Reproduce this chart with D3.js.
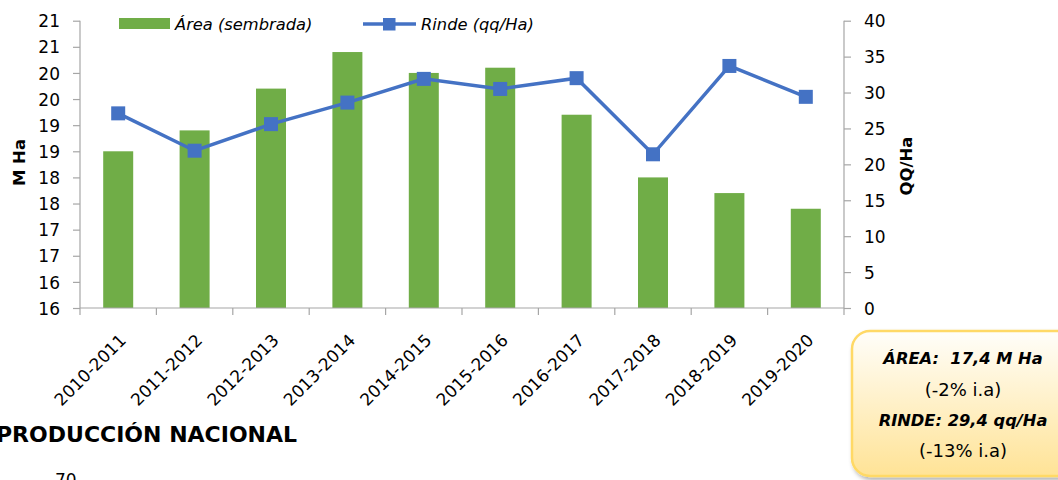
<!DOCTYPE html>
<html>
<head>
<meta charset="utf-8">
<script src="https://cdn.jsdelivr.net/npm/d3@7"></script>
<style>
  html, body { margin: 0; padding: 0; background: #fff; overflow: hidden; }
  svg { display: block; font-family: "DejaVu Sans", sans-serif; }
  .axis path, .axis line { stroke: #a6a6a6; stroke-width: 1.2; }
  .axis text { font-size: 17px; fill: #000; font-family: "DejaVu Sans", sans-serif; }
</style>
</head>
<body>
<div id="chart"></div>
<script>
var campaigns = ["2010-2011", "2011-2012", "2012-2013", "2013-2014", "2014-2015",
  "2015-2016", "2016-2017", "2017-2018", "2018-2019", "2019-2020"];
var area = [18.5, 18.9, 19.7, 20.4, 20.0, 20.1, 19.2, 18.0, 17.7, 17.4];
var rinde = [27.1, 21.9, 25.6, 28.6, 31.9, 30.5, 32.0, 21.4, 33.7, 29.4];
var leftTicks = [15.5, 16, 16.5, 17, 17.5, 18, 18.5, 19, 19.5, 20, 20.5, 21];
var leftTickLabels = ["16", "16", "17", "17", "18", "18", "19", "19", "20", "20", "21", "21"];
var rightTicks = [0, 5, 10, 15, 20, 25, 30, 35, 40];

var w = 1058, h = 480;
var plotLeft = 80, plotRight = 844, plotTop = 20.7, plotBottom = 308;

var svg = d3.select("#chart").append("svg")
  .attr("width", w)
  .attr("height", h);

var defs = svg.append("defs");
var grad = defs.append("linearGradient")
  .attr("id", "boxGrad")
  .attr("x1", 0).attr("y1", 0).attr("x2", 0).attr("y2", 1);
grad.append("stop").attr("offset", "0%").attr("stop-color", "#fffefa");
grad.append("stop").attr("offset", "100%").attr("stop-color", "#ffe396");
var shadow = defs.append("filter").attr("id", "shadow")
  .attr("x", "-10%").attr("y", "-10%").attr("width", "130%").attr("height", "130%");
shadow.append("feDropShadow")
  .attr("dx", 2).attr("dy", 3).attr("stdDeviation", 2)
  .attr("flood-color", "#000").attr("flood-opacity", 0.3);

var x = d3.scaleBand().domain(campaigns).range([plotLeft, plotRight]);
var yL = d3.scaleLinear().domain([15.5, 21]).range([plotBottom, plotTop]);
var yR = d3.scaleLinear().domain([0, 40]).range([plotBottom, plotTop]);

// barras de area
svg.append("g")
  .selectAll("rect")
  .data(area)
  .enter().append("rect")
  .attr("fill", "#70ad47")
  .attr("x", function (d, i) { return x(campaigns[i]) + (x.bandwidth() - 30) / 2; })
  .attr("width", 30)
  .attr("y", function (d) { return yL(d); })
  .attr("height", function (d) { return yL(15.5) - yL(d); });

// ejes
var axL = svg.append("g").attr("class", "axis")
  .attr("transform", "translate(" + plotLeft + ",0)")
  .call(d3.axisLeft(yL).tickValues(leftTicks).tickSize(7).tickPadding(13)
    .tickFormat(function (d, i) { return leftTickLabels[i]; }));
axL.select(".domain").attr("d", "M0," + plotTop + "V" + plotBottom);
axL.selectAll("text").attr("dy", "0.36em");

var axR = svg.append("g").attr("class", "axis")
  .attr("transform", "translate(" + plotRight + ",0)")
  .call(d3.axisRight(yR).tickValues(rightTicks).tickSize(7).tickPadding(13));
axR.select(".domain").attr("d", "M0," + plotTop + "V" + plotBottom);
axR.selectAll("text").attr("dy", "0.36em");

var axB = svg.append("g").attr("class", "axis")
  .attr("transform", "translate(0," + plotBottom + ")");
axB.append("line").attr("x1", plotLeft).attr("x2", plotRight);
axB.selectAll(".tk")
  .data(campaigns.concat(["end"]))
  .enter().append("line")
  .attr("x1", function (d, i) { return plotLeft + i * x.step(); })
  .attr("x2", function (d, i) { return plotLeft + i * x.step(); })
  .attr("y1", 0).attr("y2", 7);
axB.selectAll("text")
  .data(campaigns)
  .enter().append("text")
  .attr("transform", function (d) {
    return "translate(" + (x(d) + x.bandwidth() / 2 + 0.5) + ",25) rotate(-45)";
  })
  .attr("text-anchor", "end")
  .attr("dy", "0.7em")
  .text(function (d) { return d; });

// linea de rinde
var line = d3.line()
  .x(function (d, i) { return x(campaigns[i]) + x.bandwidth() / 2; })
  .y(function (d) { return yR(d); });
svg.append("path")
  .datum(rinde)
  .attr("fill", "none")
  .attr("stroke", "#4472c4")
  .attr("stroke-width", 3.5)
  .attr("d", line);
svg.append("g")
  .selectAll("rect")
  .data(rinde)
  .enter().append("rect")
  .attr("fill", "#4472c4")
  .attr("x", function (d, i) { return x(campaigns[i]) + x.bandwidth() / 2 - 7; })
  .attr("y", function (d) { return yR(d) - 7; })
  .attr("width", 14).attr("height", 14);

// titulos de ejes
svg.append("text")
  .attr("transform", "translate(25,162.5) rotate(-90)")
  .attr("text-anchor", "middle")
  .attr("font-size", 16.5).attr("font-weight", "bold")
  .text("M Ha");
svg.append("text")
  .attr("transform", "translate(912,166) rotate(-90)")
  .attr("text-anchor", "middle")
  .attr("font-size", 16.5).attr("font-weight", "bold")
  .text("QQ/Ha");

// leyenda
var leg = svg.append("g").attr("font-size", 16.3).attr("font-style", "italic");
leg.append("rect").attr("x", 119).attr("y", 18).attr("width", 51).attr("height", 11).attr("fill", "#70ad47");
leg.append("text").attr("x", 175).attr("y", 30).text("Área (sembrada)");
leg.append("line").attr("x1", 363).attr("x2", 416).attr("y1", 24).attr("y2", 24)
  .attr("stroke", "#4472c4").attr("stroke-width", 3.5);
leg.append("rect").attr("x", 383).attr("y", 18).attr("width", 12.5).attr("height", 12.5).attr("fill", "#4472c4");
leg.append("text").attr("x", 421).attr("y", 30).text("Rinde (qq/Ha)");

// recuadro resumen
svg.append("rect")
  .attr("x", 852).attr("y", 331).attr("width", 230).attr("height", 145)
  .attr("rx", 18).attr("ry", 18)
  .attr("fill", "url(#boxGrad)")
  .attr("stroke", "#ffd966").attr("stroke-width", 2.5)
  .attr("filter", "url(#shadow)");
var boxLines = [
  { t: "ÁREA:  17,4 M Ha", b: true, y: 364 },
  { t: "(-2% i.a)", b: false, y: 396 },
  { t: "RINDE: 29,4 qq/Ha", b: true, y: 426 },
  { t: "(-13% i.a)", b: false, y: 457 }
];
svg.append("g").selectAll("text")
  .data(boxLines)
  .enter().append("text")
  .attr("x", 963)
  .attr("y", function (d) { return d.y; })
  .attr("text-anchor", "middle")
  .attr("font-size", function (d) { return d.b ? 16.3 : 18; })
  .attr("font-weight", function (d) { return d.b ? "bold" : "normal"; })
  .attr("font-style", function (d) { return d.b ? "italic" : "normal"; })
  .attr("xml:space", "preserve")
  .style("white-space", "pre")
  .text(function (d) { return d.t; });

// siguiente grafico (cortado)
svg.append("text")
  .attr("x", -4).attr("y", 442)
  .attr("font-size", 22).attr("font-weight", "bold")
  .text("PRODUCCIÓN NACIONAL");
svg.append("text")
  .attr("x", 55).attr("y", 486)
  .attr("font-size", 17)
  .text("70");
</script>
</body>
</html>
